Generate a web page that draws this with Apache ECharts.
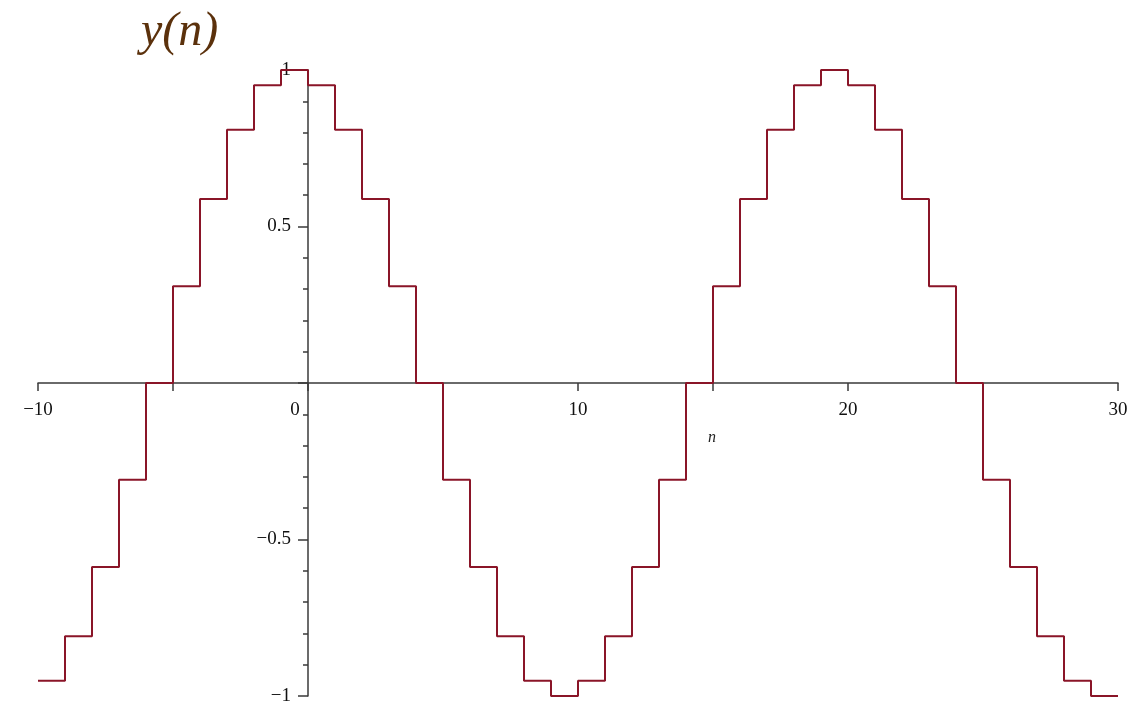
<!DOCTYPE html>
<html>
<head>
<meta charset="utf-8">
<script src="https://cdn.jsdelivr.net/npm/echarts@6/dist/echarts.min.js"></script>
<style>
  html, body { margin: 0; padding: 0; background: #ffffff; }
  #chart { width: 1128px; height: 705px; }
</style>
</head>
<body>
<div id="chart"></div>
<script>
// Left edge n of each unit step, and the level held on [n, n + 1)
const stepStarts = [-10, -9, -8, -7, -6, -5, -4, -3, -2, -1,
                    0, 1, 2, 3, 4, 5, 6, 7, 8, 9,
                    10, 11, 12, 13, 14, 15, 16, 17, 18, 19,
                    20, 21, 22, 23, 24, 25, 26, 27, 28, 29, 30];
const stepLevels = [-0.951, -0.809, -0.588, -0.309, 0, 0.309, 0.588, 0.809, 0.951, 1,
                    0.951, 0.809, 0.588, 0.309, 0, -0.309, -0.588, -0.809, -0.951, -1,
                    -0.951, -0.809, -0.588, -0.309, 0, 0.309, 0.588, 0.809, 0.951, 1,
                    0.951, 0.809, 0.588, 0.309, 0, -0.309, -0.588, -0.809, -0.951, -1, -1];

const xLabelValues = [-10, 10, 20, 30];
const yLabelValues = [-1, -0.5, 0.5, 1];

const seriesData = stepStarts.map((n, i) => [n, stepLevels[i]]);
const minus = s => String(s).replace('-', '\u2212');
const serif = '"Liberation Serif", "DejaVu Serif", serif';
const axisColor = '#3a3a3a';
const GRID = { left: 38, right: 10, top: 70, bottom: 9 };

const chart = echarts.init(document.getElementById('chart'), null, { renderer: 'canvas' });
chart.setOption({
  animation: false,
  backgroundColor: '#ffffff',
  title: {
    text: 'y(n)',
    left: 136,
    top: 3,
    textStyle: { fontFamily: serif, fontStyle: 'italic', fontWeight: 'normal', fontSize: 48, color: '#5b310c' }
  },
  grid: Object.assign({ containLabel: false, outerBoundsMode: 'none' }, GRID),
  xAxis: {
    type: 'value',
    min: -10,
    max: 30,
    interval: 5,
    name: 'n',
    nameLocation: 'middle',
    nameGap: 47,
    nameTextStyle: { fontFamily: serif, fontStyle: 'italic', fontSize: 16, color: '#222', padding: [0, 0, 0, 268] },
    axisLine: { onZero: false, lineStyle: { color: axisColor, width: 1.5 } },
    axisTick: { show: true, length: 8, lineStyle: { color: axisColor, width: 1.5 } },
    splitLine: { show: false },
    axisLabel: {
      margin: 18,
      fontFamily: serif,
      fontSize: 19,
      color: '#111',
      showMinLabel: true,
      showMaxLabel: true,
      formatter: v => {
        if (v === 0) return '{z|0}';
        return xLabelValues.includes(v) ? minus(v) : '';
      },
      rich: { z: { fontFamily: serif, fontSize: 19, color: '#111', padding: [0, 26, 4, 0] } }
    }
  },
  yAxis: {
    type: 'value',
    min: -1,
    max: 1,
    interval: 0.5,
    axisLine: { onZero: false, lineStyle: { color: axisColor, width: 1.5 } },
    axisTick: { show: true, length: 10, lineStyle: { color: axisColor, width: 1.5 } },
    minorTick: { show: true, splitNumber: 5, length: 5, lineStyle: { color: axisColor, width: 1.5 } },
    splitLine: { show: false },
    axisLabel: {
      margin: 17,
      fontFamily: serif,
      fontSize: 19,
      color: '#111',
      formatter: v => (yLabelValues.includes(v) ? minus(v) : '')
    }
  },
  series: [{
    type: 'line',
    step: 'end',
    data: seriesData,
    showSymbol: false,
    lineStyle: { color: '#8a1528', width: 2 },
    z: 1
  }]
});

// Move both axes (line, ticks and labels) so they cross at the origin.
const origin = chart.convertToPixel({ gridIndex: 0 }, [0, 0]);
const H = chart.getHeight();
chart.setOption({
  xAxis: { offset: origin[1] - (H - GRID.bottom) },
  yAxis: { offset: GRID.left - origin[0] }
});
</script>
</body>
</html>
